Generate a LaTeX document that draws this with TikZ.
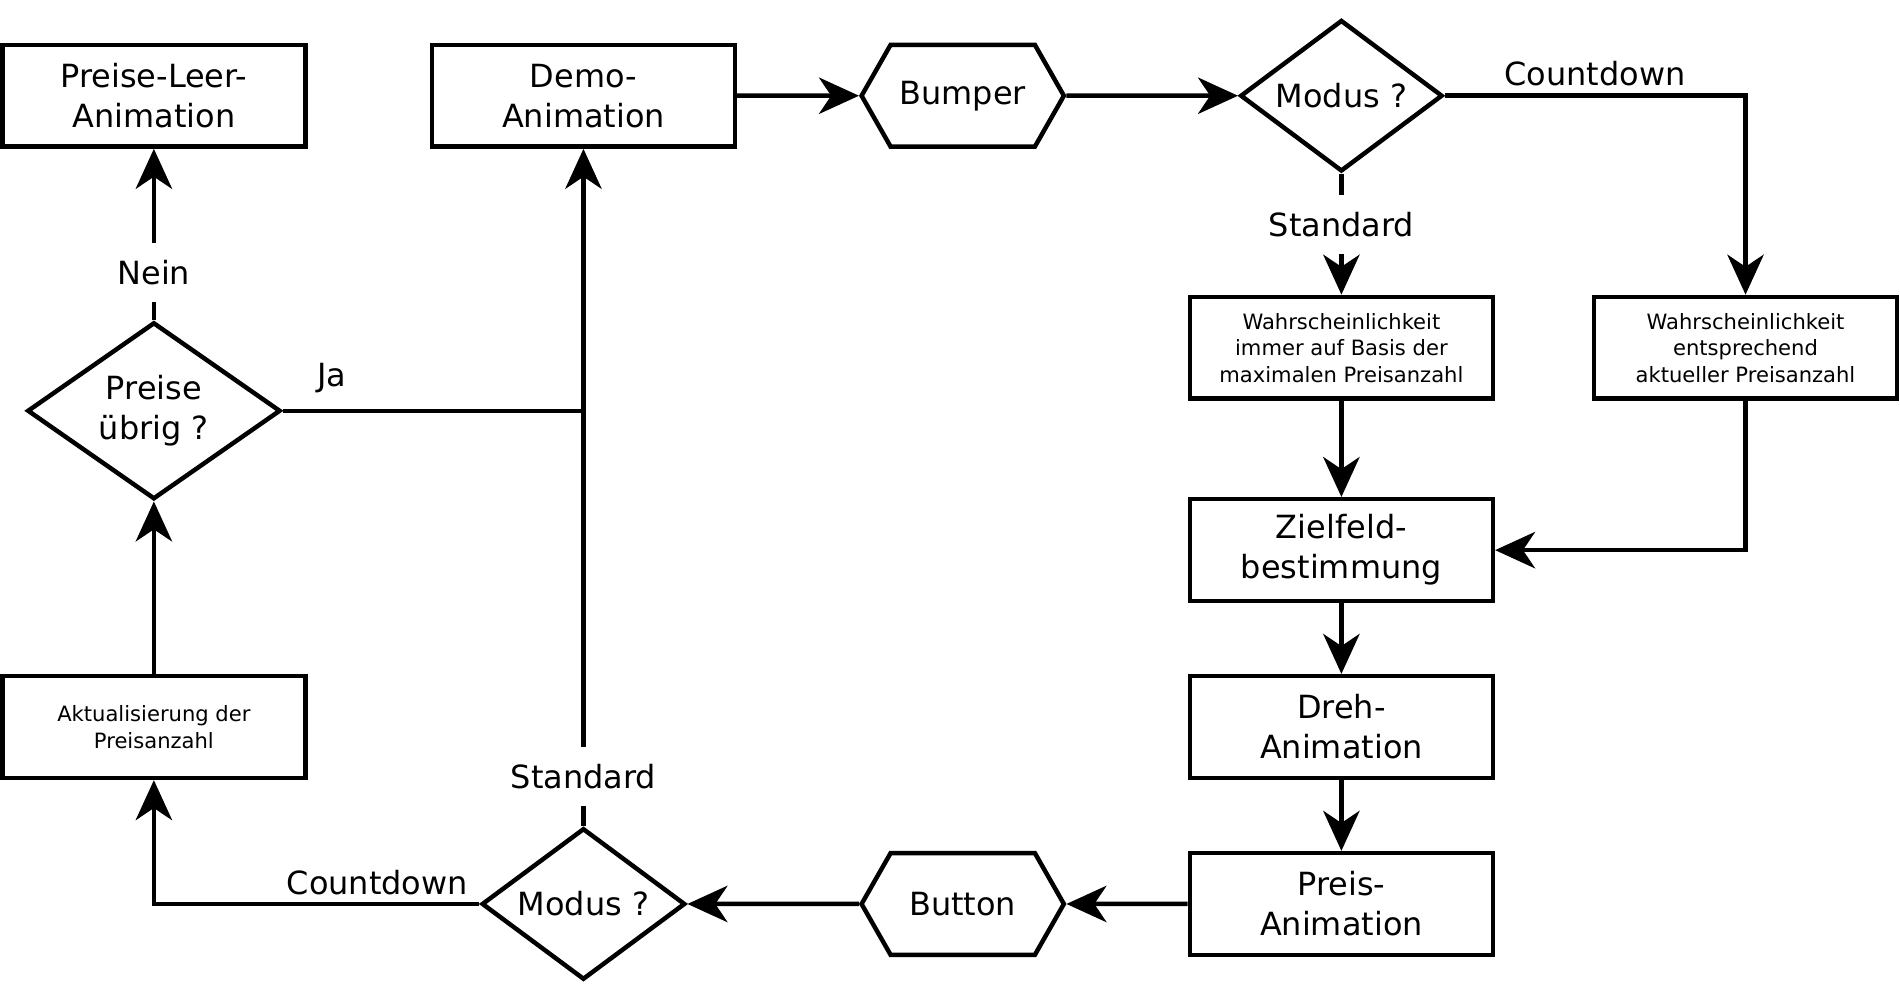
\documentclass[tikz,border=0pt]{standalone}
\usepackage{fontspec}
\setmainfont{DejaVu Sans}
\usetikzlibrary{arrows.meta,shapes.geometric,shapes.symbols}

\newcommand\boxfont{\fontsize{15}{18.8}\selectfont}
\newcommand\notefont{\fontsize{9.9}{12.5}\selectfont}

\tikzset{
    box/.style={draw, line width=2.1pt, minimum width=5cm, minimum height=1.68cm,
        inner sep=0pt, align=center, font=\boxfont},
    notebox/.style={box, font=\notefont},
    decision/.style={diamond, draw, line width=2.1pt, inner sep=0pt, align=center, font=\boxfont},
    hexbox/.style={signal, signal to=east and west, signal pointer angle=120.6, draw,
        line width=2.1pt, minimum width=3.34cm, minimum height=1.68cm, inner sep=0pt,
        font=\boxfont},
    flow/.style={line width=2.1pt},
    tag/.style={font=\boxfont, fill=white, inner sep=8pt},
}

\begin{document}
\begin{tikzpicture}[x=0.02cm, y=-0.02cm, >={Stealth[length=0.66cm, width=0.6cm, inset=0.2cm]}]
    \useasboundingbox (0,0) rectangle (1568,825);

    % top row
    \node[box] (leer) at (127,79) {Preise-Leer-\\Animation};
    \node[box] (demo) at (481.5,79) {Demo-\\Animation};
    \node[hexbox] (bumper) at (794.5,79) {Bumper};
    \node[decision, minimum width=3.34cm, minimum height=2.5cm, aspect=1.34] (modus1) at (1107,79) {Modus ?};

    % right column
    \node[notebox] (wahr1) at (1107,287) {Wahrscheinlichkeit\\immer auf Basis der\\maximalen Preisanzahl};
    \node[notebox] (wahr2) at (1440.5,287) {Wahrscheinlichkeit\\entsprechend\\aktueller Preisanzahl};
    \node[box] (ziel) at (1107,454) {Zielfeld-\\bestimmung};
    \node[box] (dreh) at (1107,600) {Dreh-\\Animation};
    \node[box] (preis) at (1107,746) {Preis-\\Animation};

    % bottom row and left column
    \node[hexbox] (button) at (794.5,746) {Button};
    \node[decision, minimum width=3.36cm, minimum height=2.5cm, aspect=1.34] (modus2) at (481.5,746) {Modus ?};
    \node[notebox] (akt) at (127,600) {Aktualisierung der\\Preisanzahl};
    \node[decision, minimum width=4.18cm, minimum height=2.92cm, aspect=1.43] (uebrig) at (127,339) {Preise\\übrig ?};
    \coordinate (ja) at (demo.south |- uebrig.east);

    \draw[flow, ->] (demo) -- (bumper);
    \draw[flow, ->] (bumper) -- (modus1);
    \draw[flow, ->] (modus1.east) -| (wahr2.north)
        node[pos=0.25, above, font=\boxfont] {Countdown};
    \draw[flow, ->] (modus1.south) -- (wahr1.north)
        node[pos=0.42, tag] {Standard};
    \draw[flow, ->] (wahr1) -- (ziel);
    \draw[flow, ->] (wahr2.south) |- (ziel.east);
    \draw[flow, ->] (ziel) -- (dreh);
    \draw[flow, ->] (dreh) -- (preis);
    \draw[flow, ->] (preis) -- (button);
    \draw[flow, ->] (button) -- (modus2);
    \draw[flow, ->] (modus2.north) -- (demo.south)
        node[pos=0.073, tag] {Standard};
    \draw[flow, ->] (modus2.west) -| (akt.south)
        node[pos=0.157, above, font=\boxfont] {Countdown};
    \draw[flow, ->] (akt) -- (uebrig);
    \draw[flow, ->] (uebrig.north) -- (leer.south)
        node[pos=0.276, tag] {Nein};
    \draw[flow] (uebrig.east) -- (ja)
        node[pos=0.164, above=4pt, font=\boxfont] {Ja};
\end{tikzpicture}
\end{document}
